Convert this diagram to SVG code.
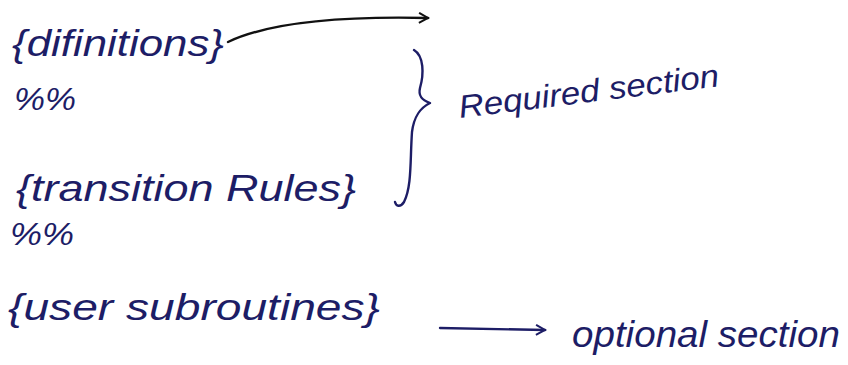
<svg xmlns="http://www.w3.org/2000/svg" width="848" height="365" viewBox="0 0 848 365">
  <style>
    .ink { font-family: "Liberation Sans", "DejaVu Sans", sans-serif; font-style: italic; fill: #1d1d66; }
    .big { font-size: 37px; }
    .mid { font-size: 32px; }
    .stroke { fill: none; stroke: #1d1d66; stroke-width: 2.4; stroke-linecap: round; stroke-linejoin: round; }
    .dark { fill: none; stroke: #111; stroke-width: 2.4; stroke-linecap: round; stroke-linejoin: round; }
  </style>
  <defs>
    <marker id="open-head" viewBox="0 0 12 12" refX="10" refY="6" markerWidth="12" markerHeight="12" markerUnits="userSpaceOnUse" orient="auto">
      <path d="M1,1 L10,6 L1,11" fill="none" stroke="#111" stroke-width="2"/>
    </marker>
    <marker id="open-head-blue" viewBox="0 0 12 12" refX="10" refY="6" markerWidth="12" markerHeight="12" markerUnits="userSpaceOnUse" orient="auto">
      <path d="M1,1 L10,6 L1,11" fill="none" stroke="#1d1d66" stroke-width="2"/>
    </marker>
  </defs>

  <rect width="848" height="365" fill="#ffffff"/>

  <!-- program sections, top to bottom -->
  <g id="definitions">
    <text class="ink big" x="12" y="56" textLength="212" lengthAdjust="spacingAndGlyphs">{difinitions}</text>
  </g>
  <g id="separator-1">
    <text class="ink mid" x="14" y="110" textLength="62" lengthAdjust="spacingAndGlyphs">%%</text>
  </g>
  <g id="transition-rules">
    <text class="ink big" x="16" y="201" textLength="340" lengthAdjust="spacingAndGlyphs">{transition Rules}</text>
  </g>
  <g id="separator-2">
    <text class="ink mid" x="10" y="245" textLength="64" lengthAdjust="spacingAndGlyphs">%%</text>
  </g>
  <g id="user-subroutines">
    <text class="ink big" x="8" y="320" textLength="372" lengthAdjust="spacingAndGlyphs">{user subroutines}</text>
  </g>

  <!-- annotations -->
  <g id="required-section">
    <text class="ink mid" x="460" y="118" textLength="262" lengthAdjust="spacingAndGlyphs" transform="rotate(-7 460 118)">Required section</text>
  </g>
  <g id="optional-section">
    <text class="ink big" x="572" y="347" textLength="268" lengthAdjust="spacingAndGlyphs">optional section</text>
  </g>

  <!-- connectors -->
  <g id="connectors">
    <!-- curved arrow leaving the definitions block -->
    <path class="dark" d="M228,42 C270,22 340,16 428,18" marker-end="url(#open-head)"/>
    <!-- brace grouping the required sections -->
    <path class="stroke" d="M414,50 C424,56 424,74 420,88 C418,96 422,100 430,103 C420,108 414,116 412,132 C410,160 412,186 404,202 C400,208 396,206 395,202"/>
    <!-- arrow to the optional section -->
    <path class="stroke" d="M440,328 L545,330" marker-end="url(#open-head-blue)"/>
  </g>
</svg>
